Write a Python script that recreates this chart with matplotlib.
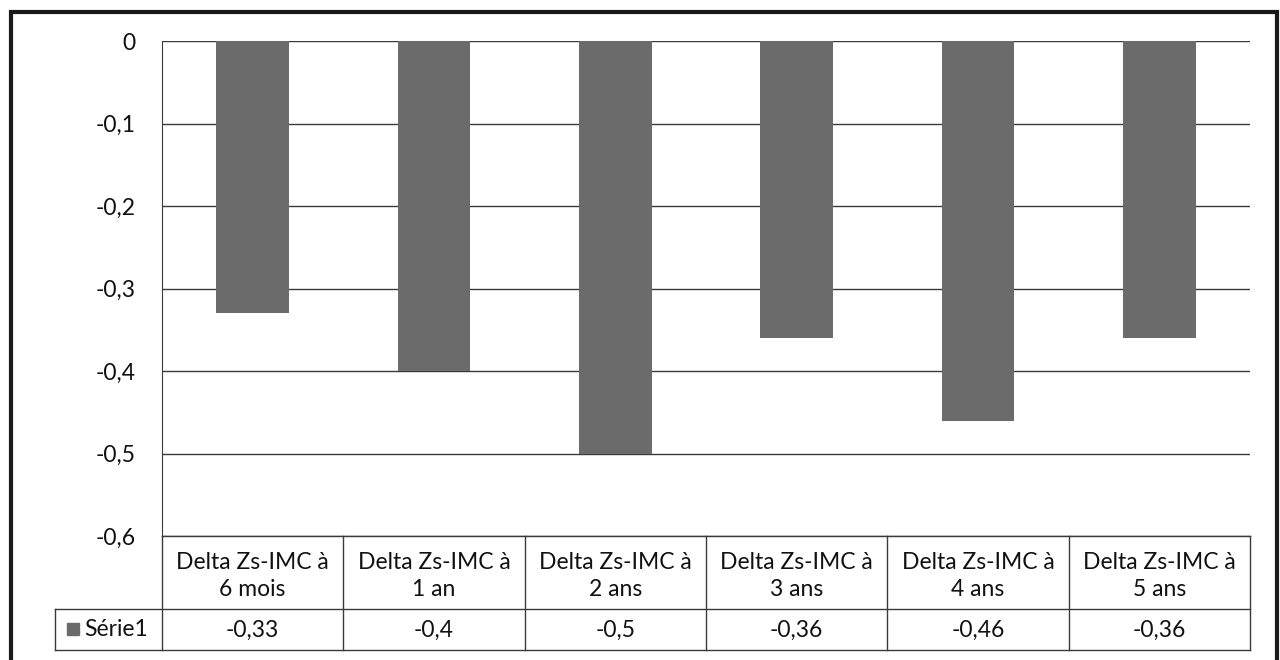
import matplotlib.pyplot as plt
import matplotlib.patches as mpatches

categories = ["Delta Zs-IMC à\n6 mois", "Delta Zs-IMC à\n1 an", "Delta Zs-IMC à\n2 ans",
              "Delta Zs-IMC à\n3 ans", "Delta Zs-IMC à\n4 ans", "Delta Zs-IMC à\n5 ans"]
values = [-0.33, -0.4, -0.5, -0.36, -0.46, -0.36]
value_labels = ["-0,33", "-0,4", "-0,5", "-0,36", "-0,46", "-0,36"]
series_name = "Série1"
yticks = [0, -0.1, -0.2, -0.3, -0.4, -0.5, -0.6]
ytick_labels = ["0", "-0,1", "-0,2", "-0,3", "-0,4", "-0,5", "-0,6"]

plt.rcParams['font.family'] = ['Lato', 'DejaVu Sans']
W, H = 1280, 660
bar_color = '#6b6b6b'
line_color = '#3a3a3a'
fs = 16.5

fig = plt.figure(figsize=(12.8, 6.6), dpi=100)

# outer frame
fig.add_artist(mpatches.Rectangle((11 / W, -0.01), (1277 - 11) / W, 1 - 12 / H + 0.01,
                                  transform=fig.transFigure, fill=False,
                                  edgecolor='#1a1a1a', linewidth=3))

x0, x1, y_top, y_bot = 162, 1250, 41, 536
ax = fig.add_axes([x0 / W, 1 - y_bot / H, (x1 - x0) / W, (y_bot - y_top) / H])
n = len(categories)
ax.bar(range(n), values, width=0.4, color=bar_color, zorder=3)
ax.set_xlim(-0.5, n - 0.5)
ax.set_ylim(-0.6, 0)
ax.set_yticks(yticks)
ax.set_yticklabels(ytick_labels, fontsize=fs, color='#111111')
ax.tick_params(axis='y', length=0, pad=19)
ax.set_xticks([])
for s in ['top', 'right', 'bottom']:
    ax.spines[s].set_visible(False)
ax.spines['left'].set_color(line_color)
ax.grid(axis='y', color=line_color, linewidth=1, zorder=1)

# data table below the plot
def fx(px):
    return px / W

def fy(py):
    return 1 - py / H

col_w = (x1 - x0) / n
row1, row2, row3 = 536, 609, 650
lab_left = 55
lines = [
    ((x0, x1), (row1, row1)),
    ((lab_left, x1), (row2, row2)),
    ((lab_left, x1), (row3, row3)),
    ((lab_left, lab_left), (row2, row3)),
]
for i in range(n + 1):
    xi = x0 + i * col_w
    lines.append(((xi, xi), (row1, row3)))
for (xs, ys) in lines:
    fig.add_artist(plt.Line2D([fx(xs[0]), fx(xs[1])], [fy(ys[0]), fy(ys[1])],
                              transform=fig.transFigure, color=line_color, linewidth=1))

for i in range(n):
    cx = x0 + (i + 0.5) * col_w
    fig.text(fx(cx), fy(576), categories[i], ha='center', va='center',
             fontsize=fs, linespacing=1.35, color='#111111')
    fig.text(fx(cx), fy(630), value_labels[i], ha='center', va='center',
             fontsize=fs, color='#111111')

fig.add_artist(mpatches.Rectangle((fx(67), fy(635)), 12 / W, 12 / H,
                                  transform=fig.transFigure, color=bar_color))
fig.text(fx(84), fy(630), series_name, ha='left', va='center', fontsize=fs,
         color='#111111')

fig.savefig('out.png', dpi=100)
